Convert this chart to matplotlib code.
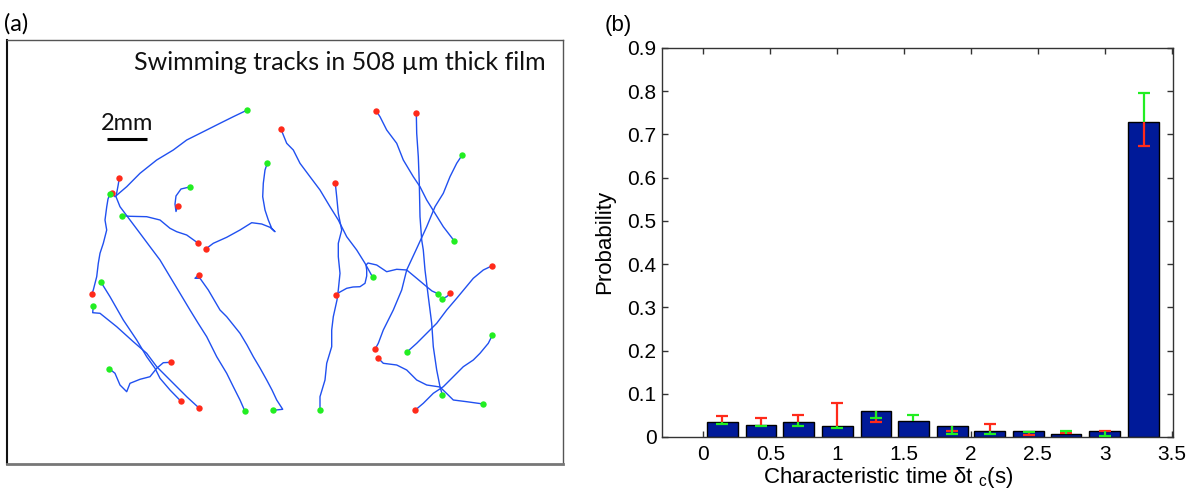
import numpy as np
import matplotlib.pyplot as plt

# ---- panel (b): histogram of characteristic time ----
bin_centers = [0.14, 0.43, 0.71, 1.0, 1.29, 1.57, 1.86, 2.14, 2.43, 2.71, 3.0, 3.29]
probability = [0.034, 0.028, 0.034, 0.025, 0.061, 0.036, 0.026, 0.014, 0.015, 0.007, 0.015, 0.729]
red_end = [0.049, 0.043, 0.052, 0.078, 0.034, np.nan, 0.013, 0.029, 0.005, 0.009, 0.013, 0.674]
green_end = [0.030, 0.026, 0.026, 0.021, 0.044, 0.050, 0.008, 0.008, 0.012, 0.013, 0.003, 0.796]
bar_width = 0.229

xtick_vals = [0, 0.5, 1, 1.5, 2, 2.5, 3, 3.5]
xtick_labels = ["0", "0.5", "1", "1.5", "2", "2.5", "3", "3.5"]
ytick_vals = [0, 0.1, 0.2, 0.3, 0.4, 0.5, 0.6, 0.7, 0.8, 0.9]
ytick_labels = ["0", "0.1", "0.2", "0.3", "0.4", "0.5", "0.6", "0.7", "0.8", "0.9"]

# ---- panel (a): swimming tracks, frame pixel coords, red end first, green end last ----
tracks = [
    [(112.3, 193.3), (115, 196.7), (126.7, 186.7), (140, 173.3), (156.7, 160), (173.3, 150),
     (186.7, 140), (203.3, 131.7), (220, 123.3), (233.3, 116.7), (247.3, 110)],
    [(119.3, 178.3), (118, 186), (116, 196.7), (120, 206.7), (130, 220), (140, 233.3), (150, 246.7),
     (160, 260), (170, 276.7), (180, 293.3), (190, 310), (198, 323), (206.7, 336.7), (216.7, 356.7),
     (226.7, 373.3), (233.3, 386.7), (240, 400), (244.7, 410.7)],
    [(91.7, 294.3), (93.3, 290), (96.7, 276.7), (98.3, 263.3), (100, 253.3), (103.3, 243.3),
     (106.7, 230), (105, 220), (106.7, 207), (108, 199), (110, 194)],
    [(205.7, 249), (213.3, 243.3), (226.7, 237.3), (240, 230), (251.7, 222.7), (261.7, 224),
     (270, 227.3), (275, 231.7), (271.7, 228.3), (268.3, 220), (265, 210), (262.7, 196.7),
     (263.3, 183.3), (265, 170), (267.3, 163.3)],
    [(198.3, 243.3), (186.7, 235), (176.7, 231.7), (170, 228.3), (160, 220), (146.7, 216.7),
     (130, 216.3), (122, 215.7)],
    [(177.7, 206), (176, 211.5), (175, 204), (176, 196), (181, 189), (189.5, 187)],
    [(198.7, 274.7), (195, 278.3), (200, 278.3), (208.3, 290), (220, 310), (226.7, 316.7),
     (240, 333.3), (247, 345), (253.3, 356.7), (260, 368), (266.7, 380), (272, 390), (276.7, 400),
     (282.7, 409.3), (273.3, 410.3)],
    [(181, 401.3), (170, 390), (160, 378.3), (155, 368.3), (146.7, 356.7), (136.7, 340),
     (123.3, 320), (110, 296.7), (100.7, 281.7)],
    [(198.7, 407.7), (186.7, 396.7), (173.3, 383.3), (156.7, 366.7), (146.7, 353.3),
     (133.3, 341.7), (116.7, 326.7), (100, 313.3), (92.7, 312.7), (93.3, 306)],
    [(171, 362.3), (163.3, 362.7), (156.7, 368.3), (150, 376.7), (140, 379.3), (130, 383.3),
     (126.7, 391.7), (120, 385), (115, 373.3), (109.3, 368.7)],
    [(281, 129.3), (286.7, 143.3), (293.3, 150), (300, 163.3), (310, 176.7), (320, 190),
     (330, 206.7), (338.3, 220), (346.7, 236.7), (356.7, 250), (365, 263.3), (372.7, 277.3)],
    [(335.7, 295), (340, 292), (346.7, 288.3), (353, 287), (360, 286.7), (365, 283.3),
     (366.7, 276), (366.7, 270), (366, 265), (368, 263), (376.7, 265), (386.7, 271.7),
     (396.7, 269.3), (406.7, 270), (416.7, 278.3), (426.7, 286.7), (432, 291), (438, 293.7)],
    [(335.3, 183.3), (336.7, 196.7), (338.3, 213.3), (341.7, 230), (338.3, 243.3), (338.3, 256.7),
     (340, 273.3), (338.3, 290), (337, 300), (333.3, 316.7), (331.7, 330), (331.7, 346.7),
     (326.7, 363.3), (325, 380), (320, 396.7), (320, 410.3)],
    [(376, 110.7), (380, 116.7), (386.7, 130), (396.7, 143.3), (403.3, 160), (413.3, 176.7),
     (420, 186.7), (426.7, 200), (435, 213.3), (443.3, 226.7), (454.3, 241)],
    [(416.3, 113.3), (416.7, 133.3), (418.3, 156.7), (419.3, 183.3), (420, 216.7), (421.7, 240),
     (423.3, 250), (425, 270), (428.3, 296.7), (431.7, 323.3), (433.3, 346.7), (436.7, 370),
     (440, 386.7), (442.3, 394.7)],
    [(375.3, 348.7), (378.3, 343.3), (383.3, 330), (393.3, 310), (401.7, 290), (406.7, 270),
     (416, 250), (426.7, 226.7), (435, 206.7), (443.3, 193.3), (450, 176.7), (456.7, 163.3),
     (462, 155.3)],
    [(450.3, 293.3), (446.7, 296.7), (442.3, 298.7)],
    [(492.3, 265.7), (483.3, 270), (473.3, 278.3), (465, 288.3), (456.7, 298.3), (446.7, 310),
     (436.7, 323.3), (426.7, 333.3), (416.7, 343.3), (407, 352)],
    [(377.7, 357.7), (383.3, 363.3), (396.7, 365), (406.7, 370), (416.7, 380), (426.7, 385),
     (440, 387), (453.3, 400), (466.7, 401.7), (483.3, 404)],
    [(415, 410.3), (423.3, 403.3), (433.3, 393.3), (443.3, 386.7), (453.3, 376.7), (463.3, 366.7),
     (473.3, 360), (480, 353.3), (488.3, 343.3), (492.3, 335.3)],
]
px_per_mm = 20
scale_bar_mm = 2

track_blue = "#2050f0"
dot_red = "#ff2a1a"
dot_green = "#22ee22"
bar_blue = "#001a99"

W, H = 1189, 496
fig = plt.figure(figsize=(W / 100, H / 100), dpi=100)

# panel (a)
ax_a = fig.add_axes([7 / W, 32 / H, 556 / W, 424 / H])
ax_a.set_xlim(7, 563)
ax_a.set_ylim(464, 40)
ax_a.set_xticks([])
ax_a.set_yticks([])
ax_a.spines["left"].set_color("#111111")
ax_a.spines["left"].set_linewidth(1.5)
for side in ["top", "right"]:
    ax_a.spines[side].set_color("#555555")
    ax_a.spines[side].set_linewidth(1.0)
ax_a.spines["bottom"].set_color("#777777")
ax_a.spines["bottom"].set_linewidth(2.0)

for tr in tracks:
    xs = [p[0] for p in tr]
    ys = [p[1] for p in tr]
    ax_a.plot(xs, ys, color=track_blue, lw=1.0, zorder=2)
    ax_a.plot(xs[0], ys[0], "o", color=dot_red, ms=4.6, mec="none", zorder=3)
    ax_a.plot(xs[-1], ys[-1], "o", color=dot_green, ms=4.6, mec="none", zorder=3)

ax_a.text(546, 63, "Swimming tracks in 508 µm thick film", ha="right", va="center",
          fontsize=18, family="Lato", color="#111111")
bar_x0 = 107
ax_a.plot([bar_x0, bar_x0 + scale_bar_mm * px_per_mm], [139, 139], color="black", lw=2.2,
          solid_capstyle="butt")
ax_a.text(bar_x0 + scale_bar_mm * px_per_mm / 2, 130, "2mm", ha="center", va="baseline",
          fontsize=17, family="Lato", color="#111111")
fig.text(4 / W, 1 - 24 / H, "(a)", ha="left", va="center", fontsize=17, family="Lato")

# panel (b)
ax_b = fig.add_axes([662 / W, 59 / H, 511 / W, 389 / H])
ax_b.bar(bin_centers, probability, width=bar_width, color=bar_blue, edgecolor="black",
         linewidth=1.0, zorder=2)

centers = np.array(bin_centers)
prob = np.array(probability)
for ends, col in [(np.array(red_end), dot_red), (np.array(green_end), dot_green)]:
    ok = ~np.isnan(ends)
    ax_b.vlines(centers[ok], prob[ok], ends[ok], color=col, lw=1.6, zorder=3)
    ax_b.plot(centers[ok], ends[ok], ls="none", marker="_", ms=9, mew=1.6, color=col, zorder=3)

ax_b.set_xlim(-0.31, 3.51)
ax_b.set_ylim(0, 0.9)
ax_b.set_xticks(xtick_vals)
ax_b.set_xticklabels(xtick_labels, family="Liberation Sans")
ax_b.set_yticks(ytick_vals)
ax_b.set_yticklabels(ytick_labels, family="Liberation Sans")
ax_b.tick_params(direction="in", top=True, right=True, length=4, width=1, labelsize=15,
                 color="#333333")
ax_b.tick_params(axis="x", pad=6)
ax_b.tick_params(axis="y", pad=4)
for s in ax_b.spines.values():
    s.set_color("#333333")
    s.set_linewidth(1.0)

fig.text(888 / W, 1 - 478 / H, r"Characteristic time δt $_{\mathregular{c}}$(s)", ha="center",
         va="center", fontsize=16, family="Liberation Sans")
fig.text(605 / W, 1 - 242 / H, "Probability", rotation=90, ha="center", va="center",
         fontsize=16, family="Liberation Sans")
fig.text(605 / W, 1 - 26 / H, "(b)", ha="left", va="center", fontsize=16,
         family="Liberation Sans")

fig.savefig("out.png", dpi=100)
